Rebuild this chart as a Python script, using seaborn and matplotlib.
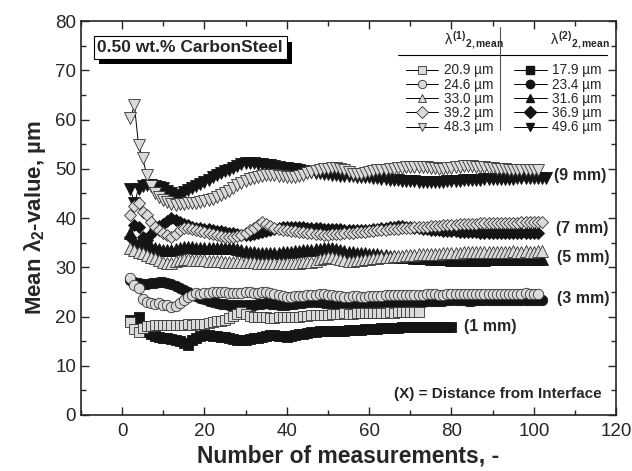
import numpy as np
import pandas as pd
import matplotlib
matplotlib.use('Agg')
import matplotlib.pyplot as plt
import seaborn as sns
from matplotlib.lines import Line2D
from matplotlib import patheffects

# --- values read off the chart (mean lambda_2 vs. number of measurements) ---
# open symbols = lambda(1), filled symbols = lambda(2); first value is measurement no. 2

open_sq = [18.9, 17.5, 16.9, 17.7, 18.0, 18.1, 18.2, 18.2, 18.3, 18.2,
           18.3, 18.3, 18.2, 18.3, 18.4, 18.3, 18.4, 18.5, 18.5, 18.7,
           18.8, 19.0, 19.1, 19.3, 19.6, 20.1, 20.6, 20.9, 20.6, 20.2,
           20.0, 19.9, 19.8, 19.8, 19.7, 19.7, 19.8, 19.8, 19.9, 19.9,
           20.0, 20.0, 20.1, 20.2, 20.3, 20.3, 20.4, 20.3, 20.4, 20.5,
           20.6, 20.6, 20.7, 20.6, 20.6, 20.7, 20.7, 20.8, 20.7, 20.7,
           20.8, 20.8, 20.8, 20.9, 20.8, 20.9, 20.9, 20.9, 20.9, 20.9, 20.9]

filled_sq = [19.3, 18.2, 20.0, 18.0, 16.8, 16.4, 16.1, 15.9, 15.7, 15.6,
             15.5, 15.3, 15.1, 14.6, 14.3, 15.3, 15.7, 16.0, 16.2, 16.2,
             16.1, 16.0, 15.9, 15.8, 15.6, 15.4, 15.2, 15.2, 15.3, 15.4,
             15.6, 15.7, 15.9, 16.0, 16.2, 16.2, 16.1, 16.0, 15.9, 16.0,
             16.2, 16.4, 16.5, 16.6, 16.8, 16.9, 17.0, 17.0, 17.1, 17.1,
             17.0, 17.0, 17.1, 17.2, 17.2, 17.3, 17.3, 17.4, 17.4, 17.5,
             17.5, 17.6, 17.6, 17.7, 17.7, 17.7, 17.8, 17.8, 17.8, 17.8,
             17.9, 17.8, 17.8, 17.9, 17.9, 17.9, 17.9, 17.9, 17.9]

open_ci = [27.8, 26.4, 25.8, 23.5, 22.9, 22.7, 22.6, 22.7, 22.4, 22.3,
           22.0, 22.2, 22.7, 23.4, 24.0, 24.4, 24.7, 24.6, 24.7, 24.8,
           24.9, 25.0, 25.0, 24.9, 24.8, 24.7, 24.7, 24.8, 24.9, 24.9,
           24.8, 24.8, 24.9, 24.9, 24.8, 24.6, 24.3, 24.1, 24.0, 24.0,
           24.1, 24.1, 24.2, 24.3, 24.4, 24.4, 24.5, 24.5, 24.4, 24.3,
           24.2, 24.1, 24.0, 24.0, 24.1, 24.1, 24.0, 24.0, 24.1, 24.1,
           24.2, 24.2, 24.3, 24.3, 24.3, 24.4, 24.4, 24.4, 24.3, 24.3,
           24.4, 24.4, 24.5, 24.5, 24.5, 24.4, 24.4, 24.5, 24.5, 24.5,
           24.6, 24.6, 24.5, 24.5, 24.5, 24.6, 24.6, 24.6, 24.6, 24.5,
           24.5, 24.6, 24.6, 24.6, 24.6, 24.6, 24.7, 24.6, 24.6, 24.6]

filled_ci = [27.4, 27.0, 26.8, 26.6, 26.6, 26.8, 26.9, 27.0, 27.0, 26.9,
             26.7, 26.2, 25.7, 25.3, 24.9, 24.5, 24.1, 23.7, 23.5, 23.2,
             22.9, 22.7, 22.6, 22.5, 22.4, 22.3, 22.3, 22.3, 22.3, 22.3,
             22.4, 22.5, 22.6, 22.7, 22.6, 22.5, 22.4, 22.3, 22.4, 22.5,
             22.6, 22.7, 22.8, 22.9, 23.0, 23.0, 22.9, 22.8, 22.7, 22.7,
             22.6, 22.6, 22.7, 22.7, 22.8, 22.8, 22.9, 22.9, 22.9, 22.9,
             23.0, 23.0, 22.9, 22.9, 22.9, 23.0, 23.0, 23.1, 23.1, 23.1,
             23.0, 23.0, 23.1, 23.1, 23.2, 23.2, 23.2, 23.3, 23.3, 23.3,
             23.3, 23.3, 23.2, 23.2, 23.3, 23.3, 23.3, 23.4, 23.4, 23.4,
             23.4, 23.4, 23.3, 23.3, 23.4, 23.4, 23.4, 23.4, 23.4, 23.4, 23.4]

open_up = [33.9, 33.5, 33.2, 32.9, 32.5, 32.1, 31.8, 31.4, 31.1, 30.9,
           30.9, 31.2, 31.5, 31.6, 31.6, 31.5, 31.5, 31.4, 31.4, 31.3,
           31.3, 31.2, 31.2, 31.1, 31.0, 31.0, 31.0, 31.0, 31.0, 31.0,
           31.0, 30.9, 30.9, 30.9, 30.9, 30.9, 30.9, 30.9, 30.9, 30.9,
           30.9, 30.9, 31.0, 31.0, 31.1, 31.3, 31.6, 31.9, 32.1, 32.1,
           31.9, 31.6, 31.4, 31.3, 31.3, 31.4, 31.5, 31.6, 31.7, 31.8,
           31.9, 32.0, 32.0, 32.1, 32.2, 32.3, 32.3, 32.4, 32.5, 32.5,
           32.6, 32.6, 32.7, 32.7, 32.8, 32.8, 32.9, 32.9, 33.0, 33.0,
           33.0, 33.1, 33.1, 33.1, 33.2, 33.2, 33.2, 33.2, 33.2, 33.2,
           33.1, 33.2, 33.2, 33.3, 33.2, 33.2, 33.3, 33.2, 33.2, 33.3, 33.3]

filled_up = [37.0, 35.4, 35.2, 34.8, 34.5, 34.2, 33.9, 33.7, 33.6, 33.5,
             33.6, 33.8, 34.0, 34.1, 34.1, 34.1, 34.0, 34.0, 34.0, 34.0,
             33.9, 33.9, 33.9, 33.9, 33.9, 33.9, 33.8, 33.6, 33.4, 33.2,
             33.1, 33.0, 32.9, 32.9, 32.9, 33.0, 33.0, 33.1, 33.1, 33.2,
             33.3, 33.4, 33.5, 33.5, 33.6, 33.7, 33.8, 33.9, 33.9, 33.9,
             33.8, 33.6, 33.4, 33.2, 33.1, 33.0, 33.0, 32.9, 32.8, 32.7,
             32.6, 32.5, 32.4, 32.3, 32.2, 32.1, 32.1, 32.0, 32.0, 31.9,
             31.9, 31.8, 31.8, 31.7, 31.7, 31.6, 31.6, 31.6, 31.5, 31.5,
             31.5, 31.5, 31.5, 31.5, 31.5, 31.5, 31.5, 31.6, 31.6, 31.6,
             31.6, 31.6, 31.6, 31.6, 31.7, 31.6, 31.6, 31.7, 31.6, 31.6, 31.6]

open_di = [40.6, 42.5, 43.0, 41.2, 40.6, 39.2, 38.2, 37.6, 37.0, 36.5,
           36.1, 36.8, 37.6, 37.9, 38.0, 37.8, 37.6, 37.4, 37.2, 37.0,
           36.8, 36.6, 36.4, 36.2, 36.1, 36.2, 36.4, 36.6, 37.0, 37.5,
           38.0, 38.6, 39.2, 38.8, 38.3, 38.0, 37.8, 37.6, 37.5, 37.4,
           37.3, 37.2, 37.1, 37.0, 36.9, 36.8, 36.7, 36.6, 36.6, 36.7,
           36.7, 36.8, 36.9, 37.0, 37.0, 37.1, 37.1, 37.2, 37.3, 37.4,
           37.5, 37.5, 37.6, 37.7, 37.8, 37.8, 37.9, 38.0, 38.0, 38.1,
           38.1, 38.2, 38.2, 38.3, 38.3, 38.4, 38.5, 38.5, 38.6, 38.6,
           38.7, 38.7, 38.8, 38.8, 38.8, 38.9, 38.9, 38.9, 39.0, 39.0,
           39.0, 39.1, 39.1, 39.1, 39.1, 39.2, 39.2, 39.2, 39.2, 39.2, 39.3]

filled_di = [36.1, 38.6, 38.2, 36.1, 35.6, 36.8, 37.8, 38.3, 38.8, 39.5,
             40.0, 39.6, 39.2, 38.8, 38.5, 38.2, 38.0, 37.9, 37.8, 37.7,
             37.6, 37.4, 37.3, 37.1, 37.0, 36.9, 36.7, 36.6, 36.5, 36.6,
             36.8, 37.0, 37.2, 37.4, 37.6, 37.8, 38.0, 38.1, 38.1, 38.2,
             38.2, 38.1, 38.1, 38.0, 38.0, 37.9, 37.9, 37.8, 37.8, 37.8,
             37.7, 37.7, 37.6, 37.6, 37.6, 37.5, 37.5, 37.6, 37.6, 37.7,
             37.8, 37.9, 38.0, 38.1, 38.2, 38.3, 38.3, 38.2, 38.1, 38.0,
             37.9, 37.8, 37.7, 37.6, 37.5, 37.5, 37.4, 37.4, 37.3, 37.3,
             37.2, 37.2, 37.1, 37.1, 37.1, 37.0, 37.0, 37.0, 37.0, 36.9,
             36.9, 36.9, 36.9, 36.9, 36.9, 36.9, 36.9, 36.9, 36.9, 36.9]

open_dn = [60.3, 62.9, 54.8, 52.2, 48.7, 46.5, 45.0, 44.2, 43.6, 43.2,
           42.9, 42.7, 42.8, 42.9, 43.0, 43.0, 43.1, 43.2, 43.4, 43.6,
           43.8, 44.2, 44.6, 45.0, 45.6, 46.2, 46.8, 47.2, 47.6, 47.9,
           48.2, 48.4, 48.6, 48.7, 48.7, 48.7, 48.6, 48.5, 48.4, 48.4,
           48.4, 48.5, 48.8, 49.1, 49.4, 49.6, 49.8, 49.9, 50.0, 50.1,
           50.1, 50.0, 49.7, 49.3, 49.0, 48.9, 49.0, 49.2, 49.4, 49.6,
           49.7, 49.8, 49.8, 49.9, 50.0, 50.1, 50.2, 50.3, 50.3, 50.4,
           50.4, 50.4, 50.3, 50.2, 50.1, 50.0, 50.0, 50.1, 50.2, 50.3,
           50.4, 50.5, 50.5, 50.5, 50.4, 50.4, 50.3, 50.2, 50.1, 50.0,
           49.9, 49.9, 49.8, 49.8, 49.8, 49.7, 49.7, 49.7, 49.7, 49.7]

filled_dn = [46.0, 43.0, 46.0, 46.5, 46.7, 46.7, 46.6, 46.4, 46.2, 45.6,
             45.0, 44.4, 44.6, 45.3, 45.8, 46.2, 46.6, 47.0, 47.4, 47.8,
             48.3, 48.7, 49.1, 49.5, 49.8, 50.1, 50.5, 50.9, 51.2, 51.2,
             51.1, 51.0, 50.9, 50.8, 50.7, 50.5, 50.4, 50.2, 50.1, 50.0,
             49.9, 49.7, 49.6, 49.4, 49.3, 49.2, 49.1, 49.0, 48.9, 48.8,
             48.7, 48.6, 48.6, 48.5, 48.5, 48.4, 48.4, 48.3, 48.3, 48.2,
             48.1, 48.0, 47.9, 47.8, 47.8, 47.7, 47.6, 47.6, 47.5, 47.5,
             47.4, 47.4, 47.4, 47.3, 47.3, 47.4, 47.4, 47.5, 47.5, 47.6,
             47.6, 47.7, 47.7, 47.8, 47.8, 47.8, 47.9, 47.9, 47.9, 48.0,
             48.0, 48.0, 48.0, 48.0, 48.1, 48.1, 48.1, 48.1, 48.1, 48.1, 48.1, 48.1]

labels_open = ['20.9 µm', '24.6 µm', '33.0 µm', '39.2 µm', '48.3 µm']
labels_filled = ['17.9 µm', '23.4 µm', '31.6 µm', '36.9 µm', '49.6 µm']
markers = ['s', 'o', '^', 'D', 'v']
distances = ['(1 mm)', '(3 mm)', '(5 mm)', '(7 mm)', '(9 mm)']
first_meas = 2

open_series = [open_sq, open_ci, open_up, open_di, open_dn]
filled_series = [filled_sq, filled_ci, filled_up, filled_di, filled_dn]

# --- style ---
sns.set_style('ticks')
plt.rcParams['font.family'] = ['Liberation Sans', 'DejaVu Sans']
plt.rcParams['mathtext.fontset'] = 'custom'
plt.rcParams['mathtext.rm'] = 'Liberation Sans'
plt.rcParams['mathtext.it'] = 'Liberation Sans'
plt.rcParams['mathtext.bf'] = 'Liberation Sans:bold'

open_fc = '#dadada'
dark = '#141414'
msize = {'s': 7, 'o': 7.5, '^': 8, 'D': 6.3, 'v': 8}

fig = plt.figure(figsize=(6.32, 4.71), dpi=100)
ax = fig.add_axes([0.128, 0.119, 0.847, 0.836])

# filled first, open symbols on top
for vals, m in zip(filled_series, markers):
    x = np.arange(first_meas, first_meas + len(vals))
    sns.lineplot(x=x, y=vals, ax=ax, color='black', linewidth=0.7,
                 marker=m, markersize=msize[m], markerfacecolor=dark,
                 markeredgecolor=dark, markeredgewidth=0.6)
for vals, m in zip(open_series, markers):
    x = np.arange(first_meas, first_meas + len(vals))
    sns.lineplot(x=x, y=vals, ax=ax, color='black', linewidth=0.7,
                 marker=m, markersize=msize[m], markerfacecolor=open_fc,
                 markeredgecolor='#333333', markeredgewidth=0.6)

ax.set_xlim(-10, 120)
ax.set_ylim(0, 80)
ax.set_xticks(np.arange(0, 121, 20))
ax.set_xticks(np.arange(-10, 121, 10), minor=True)
ax.set_yticks(np.arange(0, 81, 10))
ax.set_yticks(np.arange(0, 81, 5), minor=True)
ax.tick_params(which='both', direction='in', top=True, right=True, width=1.0, labelsize=13.5)
ax.tick_params(which='major', length=6)
ax.tick_params(which='minor', length=3.5)
ax.tick_params(axis='x', pad=6)
for s in ax.spines.values():
    s.set_linewidth(1.2)

ax.set_xlabel('Number of measurements, -', fontsize=16.5, fontweight='bold', labelpad=3)
ax.set_ylabel('Mean λ$_\\mathbf{2}$-value, µm', fontsize=16, fontweight='bold', labelpad=5)

# distance labels next to the curve ends
label_pos = [(83.0, 17.9), (105.6, 23.6), (105.6, 31.9), (105.5, 37.8), (104.8, 48.7)]
for txt, (tx, ty) in zip(distances, label_pos):
    ax.text(tx, ty, txt, fontsize=11.5, fontweight='bold', va='center', ha='left')

ax.text(0.972, 0.052, '(X) = Distance from Interface', transform=ax.transAxes,
        fontsize=11, fontweight='bold', ha='right', va='center')

# title box with drop shadow
t = ax.text(0.031, 0.934, '0.50 wt.% CarbonSteel', transform=ax.transAxes,
            fontsize=12.5, fontweight='bold', ha='left', va='center',
            bbox=dict(boxstyle='square,pad=0.22', fc='white', ec='black', lw=0.8))
t.get_bbox_patch().set_path_effects([
    patheffects.SimplePatchShadow(offset=(3.8, -4.2), shadow_rgbFace='black', alpha=1.0),
    patheffects.Normal()])

# table-like legend
h_open = [Line2D([], [], color='black', lw=0.7, marker=m, markersize=6,
                 markerfacecolor=open_fc, markeredgecolor='#333333', markeredgewidth=0.6)
          for m in markers]
h_filled = [Line2D([], [], color='black', lw=0.7, marker=m, markersize=6,
                   markerfacecolor=dark, markeredgecolor=dark)
            for m in markers]
leg = ax.legend(h_open + h_filled, labels_open + labels_filled, ncol=2,
                loc='upper left', bbox_to_anchor=(0.607, 0.893), frameon=False,
                fontsize=9.8, handlelength=2.4, handletextpad=0.4,
                columnspacing=1.5, labelspacing=0.02, borderpad=0, borderaxespad=0)

ax.text(0.678, 0.952, r'$\lambda^{\mathbf{(1)}}{}_{\mathbf{2,mean}}$', transform=ax.transAxes,
        fontsize=10.5, ha='left', va='center')
ax.text(0.876, 0.952, r'$\lambda^{\mathbf{(2)}}{}_{\mathbf{2,mean}}$', transform=ax.transAxes,
        fontsize=10.5, ha='left', va='center')
ax.plot([0.593, 0.983], [0.914, 0.914], transform=ax.transAxes, color='black', lw=0.8)
ax.plot([0.783, 0.783], [0.985, 0.723], transform=ax.transAxes, color='#555555', lw=0.8)

fig.savefig('out.png', dpi=100)
